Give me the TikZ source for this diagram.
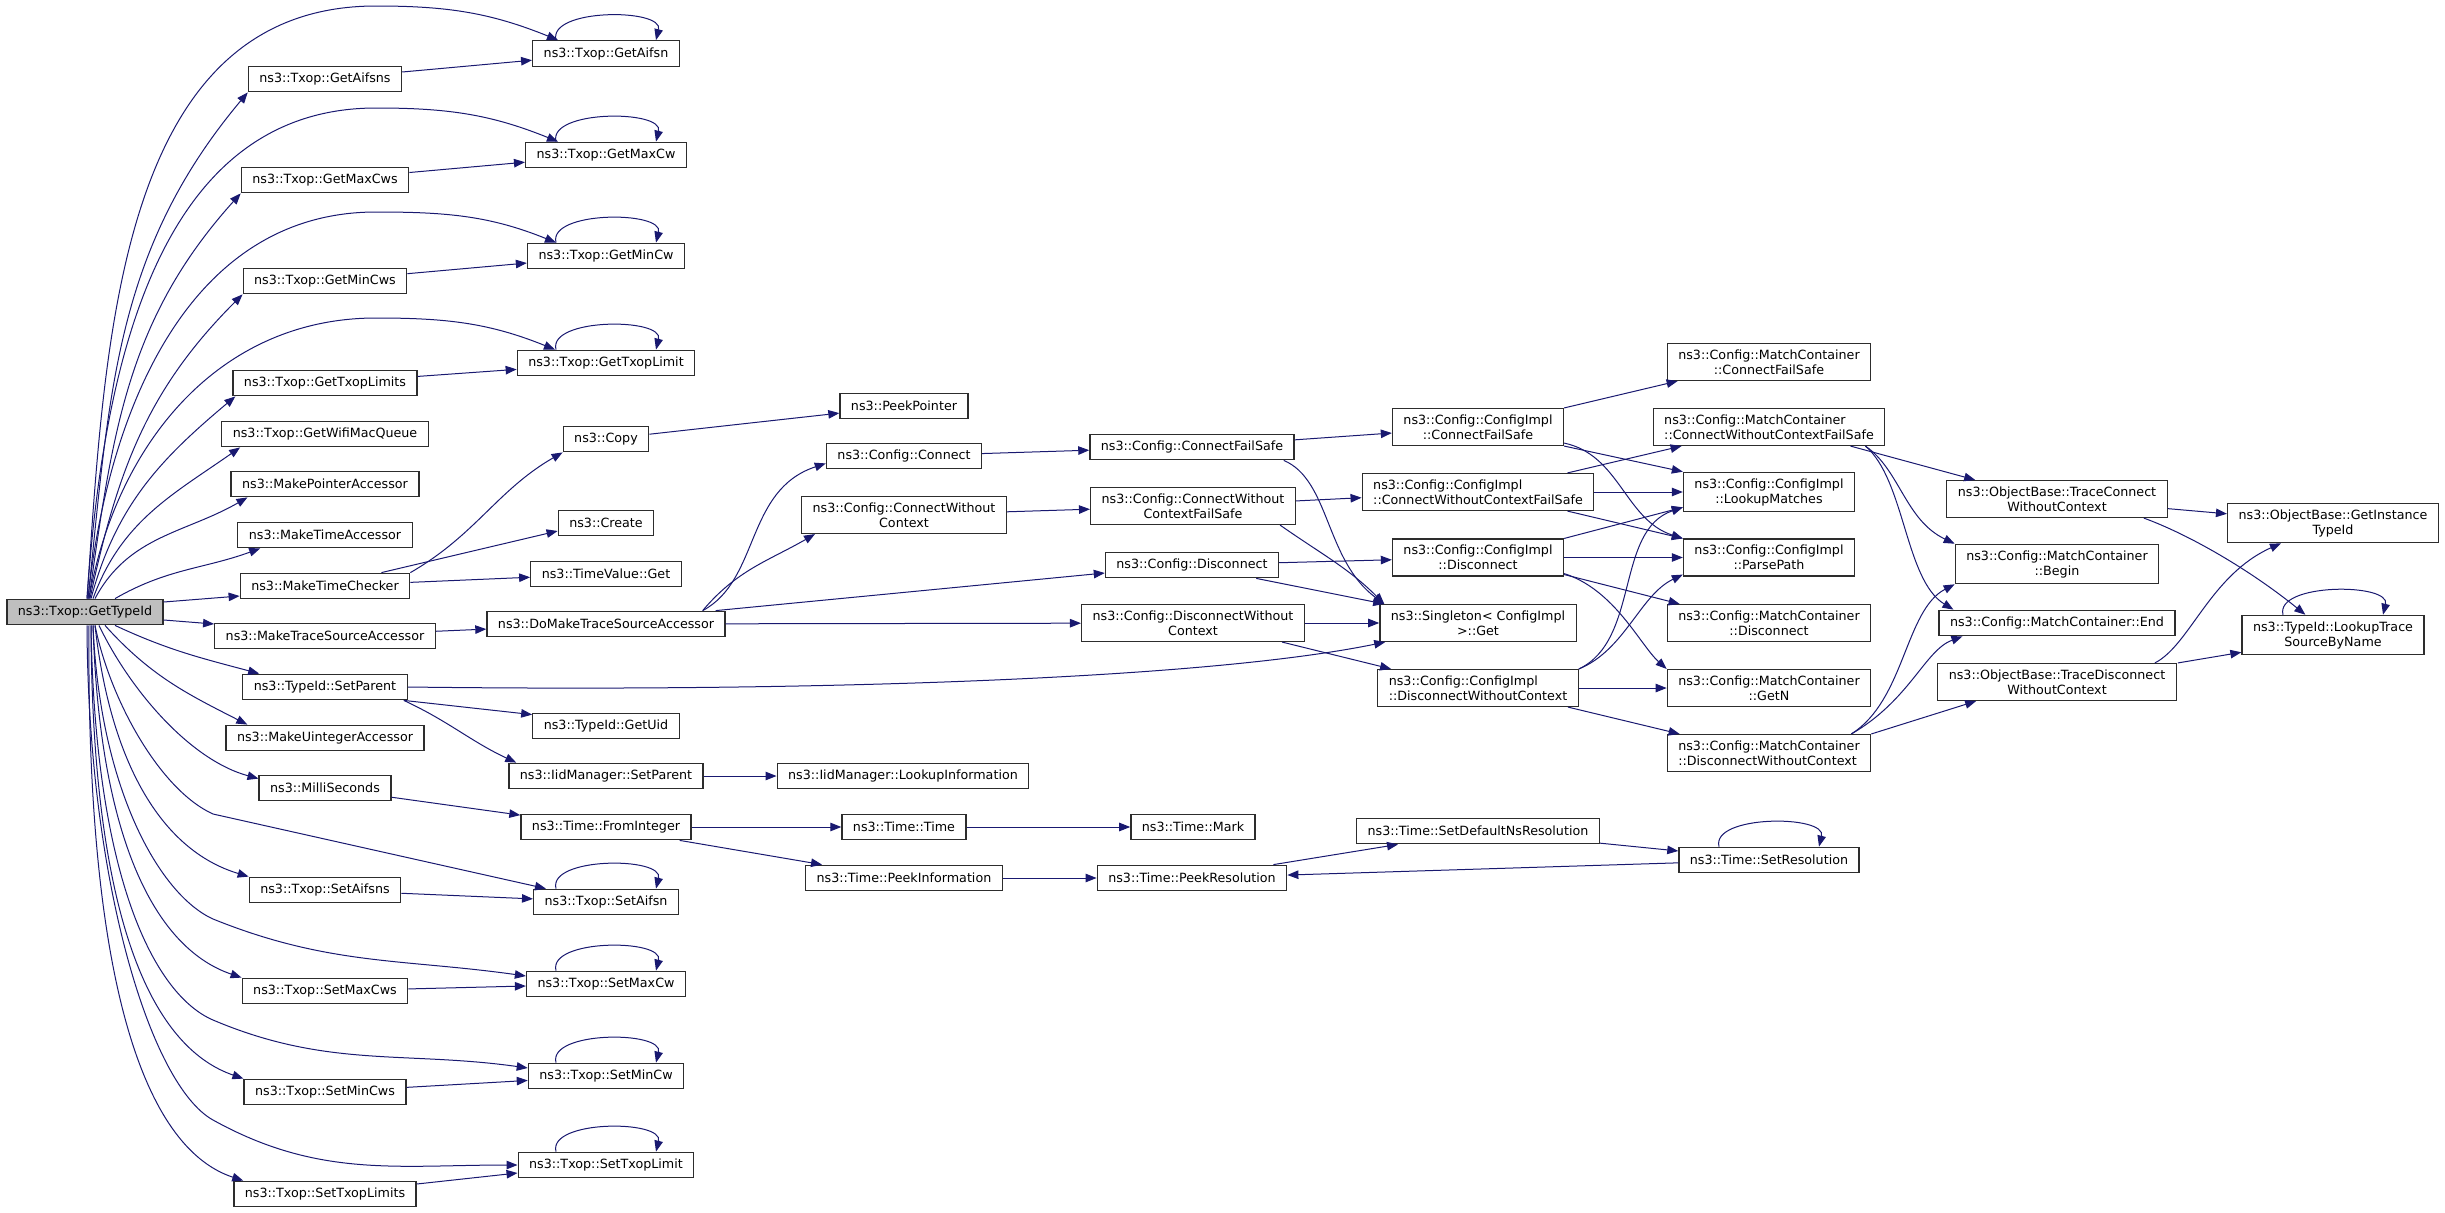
\documentclass[tikz,border=0pt]{standalone}
\usepackage{fontspec}
\setmainfont{DejaVu Sans}
\usetikzlibrary{arrows.meta}
\definecolor{edgeblue}{RGB}{25,25,112}
\definecolor{boxline}{RGB}{45,45,45}

\begin{document}
\begin{tikzpicture}[x=1pt,y=1pt,
  fn/.style={draw=boxline,line width=1.3pt,fill=white,inner xsep=11pt,inner ysep=6pt,
    minimum height=25.5pt,align=center,font=\fontsize{12.7}{15}\selectfont},
  cur/.style={fn,fill=gray!50},
  edge/.style={draw=edgeblue,line width=1pt,-{Triangle[length=11pt,width=8.5pt]}}]
\useasboundingbox (0,0) rectangle (2445,-1213);

\node[cur] (root) at (85,-612) {ns3::Txop::GetTypeId};

\node[fn] (gaifsns) at (325,-79) {ns3::Txop::GetAifsns};
\node[fn] (gmaxcws) at (325,-180) {ns3::Txop::GetMaxCws};
\node[fn] (gmincws) at (325,-281) {ns3::Txop::GetMinCws};
\node[fn] (gtxops) at (325,-383) {ns3::Txop::GetTxopLimits};
\node[fn] (gqueue) at (325,-434) {ns3::Txop::GetWifiMacQueue};
\node[fn] (mkptr) at (325,-484) {ns3::MakePointerAccessor};
\node[fn] (mktacc) at (325,-535) {ns3::MakeTimeAccessor};
\node[fn] (mktchk) at (325,-586) {ns3::MakeTimeChecker};
\node[fn] (mktrace) at (325,-636) {ns3::MakeTraceSourceAccessor};
\node[fn] (setpar) at (325,-687) {ns3::TypeId::SetParent};
\node[fn] (mkuint) at (325,-738) {ns3::MakeUintegerAccessor};
\node[fn] (milli) at (325,-788) {ns3::MilliSeconds};
\node[fn] (saifsns) at (325,-890) {ns3::Txop::SetAifsns};
\node[fn] (smaxcws) at (325,-991) {ns3::Txop::SetMaxCws};
\node[fn] (smincws) at (325,-1092) {ns3::Txop::SetMinCws};
\node[fn] (stxops) at (325,-1194) {ns3::Txop::SetTxopLimits};

\node[fn] (gaifsn) at (606,-53.5) {ns3::Txop::GetAifsn};
\node[fn] (gmaxcw) at (606,-155) {ns3::Txop::GetMaxCw};
\node[fn] (gmincw) at (606,-256) {ns3::Txop::GetMinCw};
\node[fn] (gtxop) at (606,-363) {ns3::Txop::GetTxopLimit};
\node[fn] (copy) at (606,-439) {ns3::Copy};
\node[fn] (create) at (606,-523) {ns3::Create};
\node[fn] (tvget) at (606,-574) {ns3::TimeValue::Get};
\node[fn] (domake) at (606,-624) {ns3::DoMakeTraceSourceAccessor};
\node[fn] (getuid) at (606,-726) {ns3::TypeId::GetUid};
\node[fn] (iidpar) at (606,-776) {ns3::IidManager::SetParent};
\node[fn] (fromint) at (606,-827) {ns3::Time::FromInteger};
\node[fn] (saifsn) at (606,-902) {ns3::Txop::SetAifsn};
\node[fn] (smaxcw) at (606,-984) {ns3::Txop::SetMaxCw};
\node[fn] (smincw) at (606,-1076) {ns3::Txop::SetMinCw};
\node[fn] (stxop) at (606,-1165) {ns3::Txop::SetTxopLimit};

\node[fn] (peekptr) at (904,-406) {ns3::PeekPointer};
\node[fn] (connect) at (904,-456) {ns3::Config::Connect};
\node[fn] (connwo) at (904,-515) {ns3::Config::ConnectWithout\\Context};
\node[fn] (lookinfo) at (903,-776) {ns3::IidManager::LookupInformation};
\node[fn] (ttime) at (904,-827) {ns3::Time::Time};
\node[fn] (peekinfo) at (904,-878) {ns3::Time::PeekInformation};

\node[fn] (connfs) at (1192,-447) {ns3::Config::ConnectFailSafe};
\node[fn] (connwofs) at (1193,-506) {ns3::Config::ConnectWithout\\ContextFailSafe};
\node[fn] (disconn) at (1192,-565) {ns3::Config::Disconnect};
\node[fn] (disconnwo) at (1193,-623) {ns3::Config::DisconnectWithout\\Context};
\node[fn] (tmark) at (1193,-827) {ns3::Time::Mark};
\node[fn] (peekres) at (1192,-878) {ns3::Time::PeekResolution};

\node[fn] (implcfs) at (1478,-427) {ns3::Config::ConfigImpl\\::ConnectFailSafe};
\node[fn,align=left] (implcwofs) at (1478,-492) {ns3::Config::ConfigImpl\\::ConnectWithoutContextFailSafe};
\node[fn] (impldis) at (1478,-557.5) {ns3::Config::ConfigImpl\\::Disconnect};
\node[fn] (single) at (1478,-623) {ns3::Singleton< ConfigImpl\\ >::Get};
\node[fn,align=left] (impldwo) at (1478,-688) {ns3::Config::ConfigImpl\\::DisconnectWithoutContext};
\node[fn] (setdefres) at (1478,-831) {ns3::Time::SetDefaultNsResolution};

\node[fn] (mccfs) at (1769,-362) {ns3::Config::MatchContainer\\::ConnectFailSafe};
\node[fn,align=left] (mccwofs) at (1769,-427) {ns3::Config::MatchContainer\\::ConnectWithoutContextFailSafe};
\node[fn] (lookup) at (1769,-492) {ns3::Config::ConfigImpl\\::LookupMatches};
\node[fn] (parse) at (1769,-557.5) {ns3::Config::ConfigImpl\\::ParsePath};
\node[fn] (mcdis) at (1769,-623) {ns3::Config::MatchContainer\\::Disconnect};
\node[fn] (mcgetn) at (1769,-688) {ns3::Config::MatchContainer\\::GetN};
\node[fn,align=left] (mcdwo) at (1769,-753) {ns3::Config::MatchContainer\\::DisconnectWithoutContext};
\node[fn] (setres) at (1769,-860) {ns3::Time::SetResolution};

\node[fn] (tracecon) at (2057,-499) {ns3::ObjectBase::TraceConnect\\WithoutContext};
\node[fn] (mcbegin) at (2057,-564) {ns3::Config::MatchContainer\\::Begin};
\node[fn] (mcend) at (2057,-623) {ns3::Config::MatchContainer::End};
\node[fn] (tracedis) at (2057,-682) {ns3::ObjectBase::TraceDisconnect\\WithoutContext};

\node[fn] (getinst) at (2333,-523) {ns3::ObjectBase::GetInstance\\TypeId};
\node[fn] (lookuptr) at (2333,-635) {ns3::TypeId::LookupTrace\\SourceByName};

% calls out of GetTypeId
\draw[edge] ([xshift=2pt]root.north) to[out=86,in=180] (376,-6) to[out=0,in=158] ([xshift=-48pt]gaifsn.north);
\draw[edge] ([xshift=2pt]root.north) to[out=86,in=180] (376,-108) to[out=0,in=158] ([xshift=-48pt]gmaxcw.north);
\draw[edge] ([xshift=3pt]root.north) to[out=84,in=180] (376,-212) to[out=0,in=158] ([xshift=-50pt]gmincw.north);
\draw[edge] ([xshift=4pt]root.north) to[out=80,in=180] (376,-318) to[out=0,in=158] ([xshift=-51pt]gtxop.north);
\draw[edge] ([xshift=3pt]root.north) to[out=84,in=230] (gaifsns.south west);
\draw[edge] ([xshift=4pt]root.north) to[out=82,in=228] (gmaxcws.south west);
\draw[edge] ([xshift=5pt]root.north) to[out=78,in=225] (gmincws.south west);
\draw[edge] ([xshift=6pt]root.north) to[out=75,in=220] ([xshift=3pt]gtxops.south west);
\draw[edge] ([xshift=8pt]root.north) to[out=70,in=215] ([xshift=19pt]gqueue.south west);
\draw[edge] ([xshift=10pt]root.north) to[out=62,in=210] ([xshift=17pt]mkptr.south west);
\draw[edge] ([xshift=30pt]root.north) to[out=30,in=200] ([xshift=23pt]mktacc.south west);
\draw[edge] ([yshift=10pt]root.east) -- ([yshift=-10pt]mktchk.west);
\draw[edge] ([yshift=-8pt]root.east) -- ([yshift=12pt]mktrace.west);
\draw[edge] ([xshift=30pt]root.south) to[out=-25,in=165] ([xshift=17pt]setpar.north west);
\draw[edge] ([xshift=20pt]root.south) to[out=-48,in=153] ([xshift=22pt]mkuint.north west);
\draw[edge] ([xshift=14pt]root.south) .. controls (130,-690) and (190,-760) .. ([yshift=-4pt]milli.north west);
\draw[edge] ([xshift=10pt]root.south) .. controls (110,-700) and (160,-790) .. (213,-814) -- ([xshift=13pt]saifsn.north west);
\draw[edge] ([xshift=10pt]root.south) .. controls (110,-760) and (160,-850) .. (saifsns.north west);
\draw[edge] ([xshift=8pt]root.south) .. controls (100,-790) and (160,-895) .. (213,-919) to[out=-22,in=172] ([yshift=8pt]smaxcw.west);
\draw[edge] ([xshift=8pt]root.south) .. controls (100,-850) and (160,-950) .. (smaxcws.north west);
\draw[edge] ([xshift=6pt]root.south) .. controls (95,-880) and (155,-995) .. (213,-1020) to[out=-23,in=172] ([yshift=8pt]smincw.west);
\draw[edge] ([xshift=6pt]root.south) .. controls (92,-940) and (160,-1050) .. (smincws.north west);
\draw[edge] ([xshift=2pt]root.south) .. controls (88,-880) and (150,-1085) .. (213,-1120) to[out=-29,in=180] (stxop.west);
\draw[edge] ([xshift=4pt]root.south) .. controls (86,-1000) and (150,-1150) .. ([xshift=10pt]stxops.north west);

\draw[edge] (gaifsns) -- (gaifsn);
\draw[edge] (gmaxcws) -- (gmaxcw);
\draw[edge] (gmincws) -- (gmincw);
\draw[edge] (gtxops) -- (gtxop);
\draw[edge] (mktchk.north east) to[out=30,in=210] (copy.south west);
\draw[edge] ([xshift=-29pt]mktchk.north east) -- ([yshift=-8pt]create.west);
\draw[edge] (mktchk) -- (tvget);
\draw[edge] (mktrace) -- (domake);
\draw[edge] (setpar.east) .. controls (800,-692) and (1200,-680) .. ([xshift=6pt]single.south west);
\draw[edge] ([xshift=-4pt]setpar.south east) -- ([yshift=-2pt]getuid.north west);
\draw[edge] ([xshift=-4pt]setpar.south east) to[out=-25,in=155] ([xshift=8pt]iidpar.north west);
\draw[edge] (iidpar) -- (lookinfo);
\draw[edge] (milli) -- (fromint);
\draw[edge] (saifsns) -- (saifsn);
\draw[edge] (smaxcws) -- (smaxcw);
\draw[edge] (smincws) -- (smincw);
\draw[edge] (stxops) -- ([yshift=-8pt]stxop.west);

\draw[edge] (copy) -- (peekptr);
\draw[edge] ([xshift=-23pt]domake.north east) .. controls (760,-580) and (745,-490) .. ([yshift=6pt]connect.south west);
\draw[edge] ([xshift=-23pt]domake.north east) to[out=50,in=210] ([xshift=14pt]connwo.south west);
\draw[edge] ([xshift=-10pt]domake.north east) -- ([yshift=-8pt]disconn.west);
\draw[edge] (domake) -- (disconnwo);
\draw[edge] (fromint) -- (ttime);
\draw[edge] ([xshift=-12pt]fromint.south east) -- ([xshift=17pt]peekinfo.north west);

\draw[edge] (connect) -- (connfs);
\draw[edge] (connwo) -- (connwofs);
\draw[edge] (ttime) -- (tmark);
\draw[edge] (peekinfo) -- (peekres);

\draw[edge] (connfs) -- (implcfs);
\draw[edge] ([xshift=-11pt]connfs.south east) .. controls (1330,-480) and (1325,-560) .. ([xshift=5pt]single.north west);
\draw[edge] (connwofs) -- (implcwofs);
\draw[edge] ([xshift=-16pt]connwofs.south east) to[out=-35,in=135] ([xshift=5pt]single.north west);
\draw[edge] (disconn) -- (impldis);
\draw[edge] ([xshift=-23pt]disconn.south east) -- ([xshift=5pt]single.north west);
\draw[edge] (disconnwo) -- (single);
\draw[edge] ([xshift=-23pt]disconnwo.south east) -- ([xshift=14pt]impldwo.north west);
\draw[edge] ([xshift=-14pt]peekres.north east) -- ([xshift=42pt]setdefres.south west);

\draw[edge] (implcfs.north east) -- ([xshift=11pt]mccfs.south west);
\draw[edge] (implcfs.south east) -- (lookup.north west);
\draw[edge] ([yshift=3pt]implcfs.south east) .. controls (1620,-455) and (1625,-520) .. (parse.north west);
\draw[edge] ([xshift=-27pt]implcwofs.north east) -- ([xshift=29pt]mccwofs.south west);
\draw[edge] (implcwofs) -- (lookup);
\draw[edge] ([xshift=-27pt]implcwofs.south east) -- (parse.north west);
\draw[edge] (impldis.north east) -- ([yshift=5pt]lookup.south west);
\draw[edge] (impldis) -- (parse);
\draw[edge] ([yshift=2pt]impldis.south east) -- ([xshift=13pt]mcdis.north west);
\draw[edge] ([yshift=3pt]impldis.south east) .. controls (1615,-590) and (1640,-645) .. (mcgetn.north west);
\draw[edge] (impldwo.north east) .. controls (1640,-640) and (1615,-530) .. ([yshift=5pt]lookup.south west);
\draw[edge] (impldwo.north east) .. controls (1625,-650) and (1640,-595) .. ([yshift=2pt]parse.south west);
\draw[edge] (impldwo) -- (mcgetn);
\draw[edge] ([xshift=-11pt]impldwo.south east) -- ([xshift=13pt]mcdwo.north west);
\draw[edge] (setdefres) -- (setres);
\draw[edge] (setres) -- (peekres);

\draw[edge] ([xshift=-35pt]mccwofs.south east) -- ([xshift=29pt]tracecon.north west);
\draw[edge] ([xshift=-20pt]mccwofs.south east) .. controls (1900,-470) and (1905,-520) .. (mcbegin.north west);
\draw[edge] ([xshift=-20pt]mccwofs.south east) .. controls (1905,-480) and (1905,-580) .. ([xshift=15pt]mcend.north west);
\draw[edge] ([xshift=-20pt]mcdwo.north east) .. controls (1905,-700) and (1905,-610) .. (mcbegin.south west);
\draw[edge] ([xshift=-20pt]mcdwo.north east) .. controls (1910,-700) and (1925,-650) .. ([xshift=24pt]mcend.south west);
\draw[edge] (mcdwo.north east) -- ([xshift=39pt]tracedis.south west);

\draw[edge] (tracecon) -- (getinst);
\draw[edge] ([xshift=-24pt]tracecon.south east) .. controls (2190,-535) and (2250,-570) .. ([xshift=64pt]lookuptr.north west);
\draw[edge] ([xshift=-22pt]tracedis.north east) .. controls (2190,-645) and (2210,-575) .. ([xshift=54pt]getinst.south west);
\draw[edge] ([xshift=1pt]tracedis.north east) -- ([yshift=3pt]lookuptr.south west);

% recursive calls
\foreach \nd in {gaifsn,gmaxcw,gmincw,gtxop,saifsn,smaxcw,smincw,stxop,setres,lookuptr}
  \draw[edge] ([xshift=-50pt]\nd.north) .. controls +(-8,32) and +(8,32) .. ([xshift=50pt]\nd.north);
\end{tikzpicture}
\end{document}
